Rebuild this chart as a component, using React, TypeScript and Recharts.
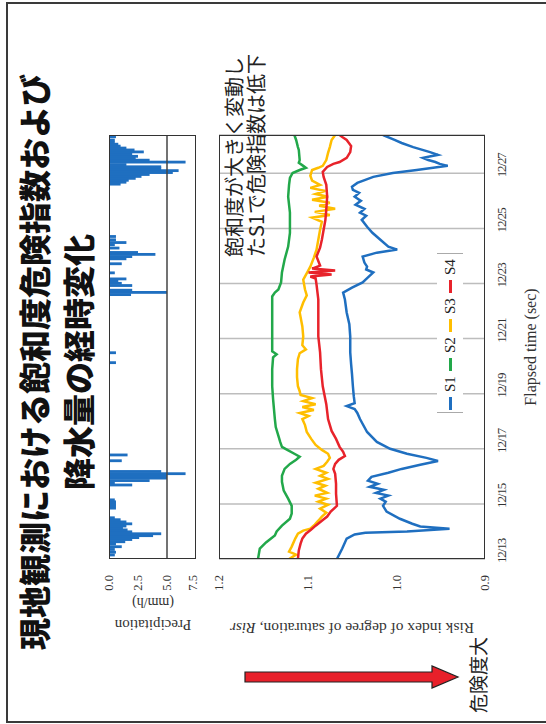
import React from 'react';
import { LineChart, ComposedChart, Line, Bar, XAxis, YAxis, CartesianGrid, ReferenceLine } from 'recharts';

// time in days since 12/13 00:00
const dateTicks = [0, 2, 4, 6, 8, 10, 12, 14];
const dateLabels = ['12/13', '12/15', '12/17', '12/19', '12/21', '12/23', '12/25', '12/27'];
const riskTicks = [0.9, 1.0, 1.1, 1.2];
const precipTicks = [0, 2.5, 5, 7.5];
const timeDomain: [number, number] = [0, 15.39];

const s1: [number, number][] = [
  [0, 1.067], [0.38, 1.061], [0.74, 1.056], [0.89, 1.047], [0.95, 1.035], [1.0, 0.988], [1.1, 0.94], [1.18, 0.973],
  [1.28, 0.982], [1.46, 0.996], [1.72, 1.011], [1.93, 1.015], [2.08, 1.012], [2.19, 1.018], [2.3, 1.009], [2.4, 1.023],
  [2.51, 1.014], [2.62, 1.03], [2.73, 1.021], [2.84, 1.032], [2.98, 1.028], [3.13, 1.009], [3.27, 0.994], [3.42, 0.973],
  [3.56, 0.953], [3.67, 0.966], [3.82, 0.988], [4.0, 1.007], [4.25, 1.022], [4.61, 1.033], [5.08, 1.041], [5.3, 1.044],
  [5.44, 1.047], [5.55, 1.056], [5.66, 1.047], [5.91, 1.048], [6.27, 1.049], [6.71, 1.05], [7.07, 1.051], [7.5, 1.052],
  [8.08, 1.052], [8.52, 1.053], [8.95, 1.056], [9.42, 1.058], [9.67, 1.06], [9.85, 1.05], [10.04, 1.038], [10.22, 1.032],
  [10.4, 1.026], [10.51, 1.034], [10.61, 1.033], [10.76, 1.036], [10.98, 1.038], [11.12, 1.022], [11.23, 0.999], [11.34, 1.009],
  [11.59, 1.018], [11.84, 1.027], [12.06, 1.033], [12.31, 1.039], [12.46, 1.034], [12.57, 1.041], [12.71, 1.036], [12.86, 1.046],
  [13.0, 1.04], [13.15, 1.047], [13.29, 1.042], [13.4, 1.049], [13.51, 1.05], [13.65, 1.044], [13.76, 1.035], [13.87, 1.026],
  [14.01, 1.004], [14.12, 0.977], [14.27, 0.942], [14.34, 0.951], [14.41, 0.956], [14.48, 0.964], [14.56, 0.97], [14.67, 0.953],
  [14.77, 0.962], [14.95, 0.981], [15.1, 0.994], [15.21, 1.002], [15.39, 1.015],
];

const s2: [number, number][] = [
  [0, 1.156], [0.38, 1.154], [0.6, 1.147], [0.85, 1.137], [1.0, 1.135], [1.21, 1.129], [1.46, 1.12], [1.65, 1.118],
  [1.93, 1.118], [2.19, 1.122], [2.48, 1.127], [2.8, 1.129], [3.02, 1.129], [3.27, 1.126], [3.45, 1.12], [3.6, 1.113],
  [3.71, 1.109], [3.82, 1.115], [3.96, 1.123], [4.07, 1.129], [4.25, 1.131], [4.47, 1.133], [4.79, 1.136], [5.08, 1.137],
  [5.44, 1.138], [5.8, 1.139], [6.27, 1.14], [6.89, 1.14], [7.32, 1.139], [7.43, 1.135], [7.54, 1.14], [8.08, 1.14],
  [8.7, 1.14], [9.24, 1.14], [9.53, 1.14], [9.67, 1.137], [9.78, 1.133], [10.04, 1.13], [10.4, 1.129], [10.87, 1.126],
  [11.34, 1.122], [11.84, 1.12], [12.57, 1.12], [13.15, 1.122], [13.58, 1.121], [13.83, 1.12], [14.01, 1.117], [14.12, 1.109],
  [14.2, 1.102], [14.27, 1.105], [14.38, 1.11], [14.48, 1.109], [14.85, 1.11], [14.95, 1.111], [15.21, 1.113], [15.39, 1.115],
];

const s3: [number, number][] = [
  [0, 1.121], [0.16, 1.113], [0.27, 1.121], [0.45, 1.118], [0.74, 1.114], [0.92, 1.111], [1.03, 1.105], [1.1, 1.097],
  [1.25, 1.092], [1.39, 1.088], [1.54, 1.084], [1.68, 1.079], [1.83, 1.086], [1.97, 1.077], [2.08, 1.088], [2.19, 1.079],
  [2.3, 1.092], [2.4, 1.078], [2.55, 1.088], [2.66, 1.08], [2.77, 1.091], [2.91, 1.077], [3.02, 1.086], [3.13, 1.079],
  [3.27, 1.091], [3.38, 1.082], [3.53, 1.078], [3.67, 1.075], [3.82, 1.077], [3.96, 1.084], [4.14, 1.091], [4.36, 1.096],
  [4.61, 1.101], [4.86, 1.103], [5.08, 1.106], [5.19, 1.099], [5.3, 1.109], [5.41, 1.093], [5.52, 1.106], [5.62, 1.091],
  [5.73, 1.105], [5.84, 1.095], [5.95, 1.108], [6.09, 1.109], [6.27, 1.111], [6.6, 1.112], [6.89, 1.112], [7.25, 1.111],
  [7.47, 1.109], [7.61, 1.102], [7.76, 1.106], [8.08, 1.105], [8.44, 1.106], [8.95, 1.109], [9.31, 1.105], [9.57, 1.101],
  [9.78, 1.103], [10.14, 1.105], [10.43, 1.1], [10.61, 1.097], [10.94, 1.093], [11.23, 1.09], [11.59, 1.088], [11.95, 1.086],
  [12.24, 1.084], [12.39, 1.095], [12.49, 1.075], [12.6, 1.092], [12.71, 1.069], [12.82, 1.087], [12.93, 1.075], [13.04, 1.095],
  [13.15, 1.077], [13.25, 1.091], [13.36, 1.08], [13.47, 1.097], [13.58, 1.086], [13.73, 1.095], [13.91, 1.097], [14.12, 1.095],
  [14.2, 1.088], [14.27, 1.083], [14.48, 1.079], [14.74, 1.077], [14.95, 1.075], [15.21, 1.073], [15.39, 1.069],
];

const s4: [number, number][] = [
  [0, 1.111], [0.31, 1.11], [0.56, 1.108], [0.74, 1.106], [0.92, 1.102], [1.07, 1.096], [1.21, 1.091], [1.39, 1.084],
  [1.54, 1.078], [1.72, 1.074], [1.93, 1.067], [2.37, 1.068], [2.73, 1.068], [3.09, 1.069], [3.27, 1.071], [3.45, 1.069],
  [3.6, 1.065], [3.74, 1.058], [3.89, 1.06], [4.07, 1.064], [4.36, 1.068], [4.65, 1.073], [5.08, 1.077], [5.62, 1.079],
  [6.27, 1.083], [6.89, 1.085], [7.5, 1.086], [8.08, 1.088], [8.7, 1.088], [9.42, 1.088], [9.96, 1.09], [10.18, 1.091],
  [10.25, 1.097], [10.33, 1.073], [10.4, 1.099], [10.47, 1.069], [10.54, 1.095], [10.65, 1.086], [10.98, 1.09], [11.3, 1.086],
  [11.59, 1.084], [11.95, 1.082], [12.31, 1.08], [12.68, 1.079], [13.15, 1.078], [13.58, 1.079], [13.87, 1.082], [14.05, 1.083],
  [14.23, 1.078], [14.34, 1.071], [14.41, 1.064], [14.56, 1.056], [14.77, 1.052], [14.99, 1.051], [15.21, 1.056], [15.32, 1.061],
  [15.39, 1.064],
];

const precip: [number, number][] = [
  [0.15, 0.5], [0.25, 0.6], [0.35, 0.5], [0.45, 1.1], [0.55, 0.6], [0.63, 1.4], [0.71, 2.0], [0.78, 2.6], [0.85, 3.8],
  [0.92, 4.5], [0.99, 2.0], [1.06, 1.6], [1.13, 1.2], [1.2, 1.5], [1.28, 2.0], [1.35, 1.5], [1.43, 1.0], [1.5, 0.5],
  [1.85, 0.6], [1.93, 0.6], [2.0, 0.6], [2.08, 0.6], [2.15, 0.5], [2.69, 2.0], [2.77, 0.5], [2.85, 3.5], [2.94, 5.0],
  [3.03, 5.0], [3.1, 6.6], [3.18, 4.5], [3.57, 1.1], [3.78, 1.6], [7.13, 0.6], [7.49, 0.6], [9.6, 1.9], [9.68, 5.0],
  [9.76, 2.0], [9.93, 2.0], [10.01, 1.1], [10.08, 0.8], [10.17, 1.5], [10.39, 0.5], [10.72, 1.1], [10.9, 1.5], [10.98, 2.0],
  [11.06, 4.0], [11.13, 2.5], [11.29, 0.9], [11.41, 0.5], [11.49, 1.5], [11.59, 0.6], [11.71, 0.6], [13.61, 1.0], [13.68, 1.5],
  [13.75, 1.7], [13.82, 2.3], [13.89, 2.8], [13.96, 3.5], [14.03, 5.5], [14.1, 6.0], [14.17, 4.5], [14.24, 4.5], [14.32, 1.5],
  [14.41, 6.6], [14.48, 3.5], [14.55, 2.3], [14.62, 2.5], [14.7, 2.0], [14.78, 3.0], [14.85, 2.2], [14.92, 1.5], [14.99, 1.0],
  [15.06, 0.8], [15.13, 0.5], [15.21, 0.5], [15.33, 0.6],
];

const seriesNames = ['S1', 'S2', 'S3', 'S4'];
const seriesColors = ['#1f6fc0', '#22a84a', '#ffbe00', '#e8232b'];
const seriesData = [s1, s2, s3, s4];

const titleLines = ['現地観測における飽和度危険指数および', '降水量の経時変化'];
const noteLines = ['飽和度が大きく変動し', 'たS1で危険指数は低下'];

const SERIF = '"Liberation Serif", "Times New Roman", serif';
const JP = '"Noto Sans CJK JP", "Noto Sans", sans-serif';

const precipRows = precip.map(([t, p]) => ({ t, p }));
const lineRows = seriesData.map((d) => d.map(([t, v]) => ({ t, v })));

const TimeTick = (props: any) => {
  const { x, y, payload } = props;
  const i = dateTicks.indexOf(payload.value);
  return (
    <text x={x + 8} y={y} dy="0.71em" textAnchor="middle" fontFamily={SERIF} fontSize={13} letterSpacing={-1.1} fill="#333">
      {dateLabels[i]}
    </text>
  );
};

// draws each precipitation bar at a fixed thickness, centred on the bar's own position
const RainBar = (props: any) => {
  const { x, y, width, height, fill } = props;
  const w = 2.8;
  const cx = x + width / 2;
  const y0 = Math.min(y, y + height);
  const h = Math.abs(height);
  return <rect x={cx - w / 2} y={y0} width={w} height={h} fill={fill} />;
};

export default function App() {
  return (
    <div style={{ position: 'fixed', left: 0, top: 0, width: 546, height: 724, overflow: 'hidden', background: '#fff' }}>
      <div
        style={{
          position: 'absolute', left: 0, top: 0, width: 724, height: 546,
          transformOrigin: '0 0', transform: 'translate(0px, 724px) rotate(-90deg)', background: '#fff', overflow: 'hidden',
        }}
      >
        {/* slide border */}
        <div style={{ position: 'absolute', left: 1, top: 6, width: 721, height: 620, border: '2px solid #3a3a3a', boxSizing: 'border-box' }} />

        {/* precipitation panel */}
        <div style={{ position: 'absolute', left: 0, top: 0 }}>
          <ComposedChart width={724} height={200} data={precipRows} margin={{ top: 109, right: 135, bottom: 4, left: 0 }}>
            <XAxis dataKey="t" type="number" domain={timeDomain} allowDataOverflow hide />
            <YAxis
              type="number" domain={[0, 7.5]} ticks={precipTicks} reversed width={165} axisLine={false} tickLine={false}
              tickSize={0} tickMargin={16} tickFormatter={(v: number) => v.toFixed(1)}
              tick={{ fontSize: 12.5, fontFamily: SERIF, fill: '#333' }}
            />
            <ReferenceLine y={5} stroke="#444" strokeWidth={1.5} />
            <Bar dataKey="p" fill="#1f6fc0" barSize={2} shape={<RainBar />} isAnimationActive={false} />
          </ComposedChart>
        </div>
        <div style={{ position: 'absolute', left: 165, top: 109, width: 424, height: 87, border: '1.5px solid #333', boxSizing: 'border-box' }} />

        {/* risk panel */}
        <div style={{ position: 'absolute', left: 0, top: 0 }}>
          <LineChart width={724} height={546} margin={{ top: 219, right: 135, bottom: 21, left: 0 }}>
            <CartesianGrid horizontal={false} stroke="#bdbdbd" strokeWidth={1.5} />
            <XAxis
              dataKey="t" type="number" domain={timeDomain} allowDataOverflow ticks={dateTicks} height={40}
              axisLine={false} tickLine={false} tickSize={0} tickMargin={12} tick={<TimeTick />}
            />
            <YAxis
              type="number" domain={[0.9, 1.2]} ticks={riskTicks} width={165} axisLine={false} tickLine={false}
              tickSize={0} tickMargin={16} tickFormatter={(v: number) => v.toFixed(1)}
              tick={{ fontSize: 12.5, fontFamily: SERIF, fill: '#333' }} allowDataOverflow
            />
            {lineRows.map((rows, i) => (
              <Line
                key={seriesNames[i]} data={rows} dataKey="v" name={seriesNames[i]} stroke={seriesColors[i]}
                strokeWidth={2.5} dot={false} type="linear" isAnimationActive={false}
              />
            ))}
          </LineChart>
        </div>
        <div style={{ position: 'absolute', left: 165, top: 219, width: 424, height: 266, border: '1.5px solid #333', boxSizing: 'border-box' }} />

        {/* legend */}
        <div
          style={{
            position: 'absolute', left: 311, top: 437, width: 160, height: 26, background: '#fff',
            borderLeft: '1.5px solid #aaa', borderRight: '1.5px solid #aaa', boxSizing: 'border-box',
            display: 'flex', alignItems: 'center', paddingLeft: 2,
          }}
        >
          {seriesNames.map((n, i) => (
            <div key={n} style={{ display: 'flex', alignItems: 'center', width: 40 }}>
              <div style={{ width: 13, height: 3, background: seriesColors[i], marginRight: 5 }} />
              <span style={{ fontFamily: SERIF, fontSize: 15, color: '#222' }}>{n}</span>
            </div>
          ))}
        </div>

        {/* texts & arrow */}
        <svg width={724} height={546} style={{ position: 'absolute', left: 0, top: 0, pointerEvents: 'none' }}>
          <text x={362} y={47} textAnchor="middle" fontFamily={JP} fontWeight={900} fontSize={32} fill="#111">{titleLines[0]}</text>
          <text x={362} y={91} textAnchor="middle" fontFamily={JP} fontWeight={900} fontSize={32} fill="#111">{titleLines[1]}</text>

          <text x={467} y={242} fontFamily={JP} fontSize={20} fill="#222">{noteLines[0]}</text>
          <text x={467} y={264} fontFamily={JP} fontSize={20} fill="#222">{noteLines[1]}</text>

          <text transform="translate(104,153) rotate(-90)" textAnchor="middle" fontFamily={SERIF} fontSize={15} fill="#333">Precipitation</text>
          <text transform="translate(126,153) rotate(-90)" textAnchor="middle" fontFamily={SERIF} fontSize={14} fill="#333">(mm/h)</text>
          <text transform="translate(101,352) rotate(-90)" textAnchor="middle" fontFamily={SERIF} fontSize={15.5} fill="#333">
            Risk index of degree of saturation, <tspan fontStyle="italic">Risr</tspan>
          </text>
          <text x={377} y={536} textAnchor="middle" fontFamily={SERIF} fontSize={16} fill="#333">Flapsed time (sec)</text>

          <polygon
            points="42,245 52,245 52,432 58,432 47,458 36,432 42,432"
            fill="#e8202a" stroke="#222" strokeWidth={1.2}
          />
          <text x={11} y={486} fontFamily={JP} fontSize={19} fill="#222">危険度大</text>
        </svg>
      </div>
    </div>
  );
}
